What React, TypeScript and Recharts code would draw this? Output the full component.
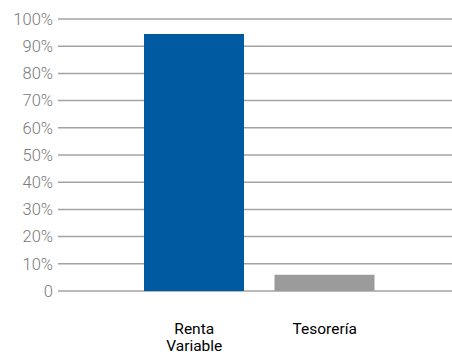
import { BarChart, Bar, XAxis, YAxis, CartesianGrid, Cell } from "recharts";

const categories = ["Renta Variable", "Tesorería"];
const shares = [94.5, 6];
const barColors = ["#005aa1", "#9b9b9b"];
const yTicks = [0, 10, 20, 30, 40, 50, 60, 70, 80, 90, 100];

const chartData = categories.map((name, i) => ({ name, value: shares[i] }));

function CategoryTick({ x, y, payload }: { x: number; y: number; payload: { value: string } }) {
  const lines = payload.value === "Renta Variable" ? ["Renta", "Variable"] : [payload.value];
  return (
    <text x={x} y={y} textAnchor="middle" fill="#000" fontSize={15.5} fontWeight={400}
      fontFamily="Roboto, 'Liberation Sans', sans-serif">
      {lines.map((line, i) => (
        <tspan key={line} x={x} dy={i === 0 ? 41 : 17}>{line}</tspan>
      ))}
    </text>
  );
}

export default function App() {
  return (
    <div style={{ position: "absolute", left: 0, top: 0, background: "#fff" }}>
      <BarChart width={452} height={356} data={chartData}
        margin={{ top: 19, right: 0, bottom: 0, left: 0 }}>
        <CartesianGrid vertical={false} stroke="#a3a3a3" strokeWidth={1.5} />
        <YAxis
          width={58}
          domain={[0, 100]}
          ticks={yTicks}
          interval={0}
          axisLine={false}
          tickLine={false}
          tickSize={0}
          tickMargin={5}
          tickFormatter={(v: number) => (v === 0 ? "0" : `${v}%`)}
          tick={{ fill: "#7a7a7a", fontSize: 16.5, fontWeight: 300, fontFamily: "Roboto, 'Liberation Sans', sans-serif" }}
        />
        <XAxis
          dataKey="name"
          height={65}
          axisLine={false}
          tickLine={false}
          tickSize={0}
          padding={{ left: 71, right: 62 }}
          interval={0}
          tick={CategoryTick}
        />
        <Bar dataKey="value" barSize={100} isAnimationActive={false}>
          {chartData.map((d, i) => (
            <Cell key={d.name} fill={barColors[i]} />
          ))}
        </Bar>
      </BarChart>
    </div>
  );
}
